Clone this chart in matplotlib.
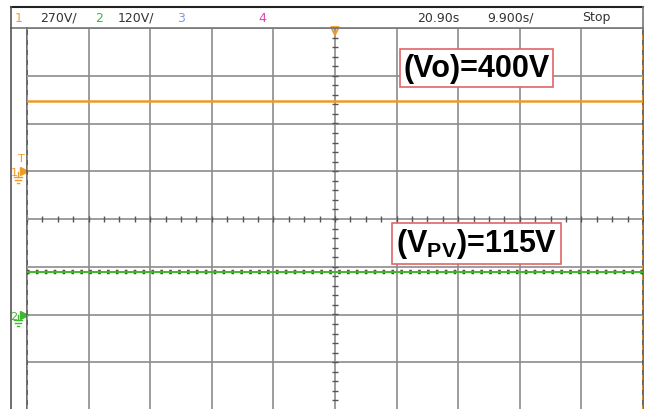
# Captura de osciloscopio: Vo y Vpv (modo Stop)
import numpy as np
import matplotlib.pyplot as plt

plt.rcParams['mathtext.fontset'] = 'custom'
plt.rcParams['mathtext.bf'] = 'Liberation Sans:bold'
plt.rcParams['mathtext.rm'] = 'Liberation Sans:bold'

# Ajustes del osciloscopio
ch1_scale = 270      # V/div
ch2_scale = 120      # V/div
t_scale = 9.9        # s/div
ch1_offset = 1.0     # div (marcador de tierra canal 1)
ch2_offset = -2.0    # div (marcador de tierra canal 2)

# Cabecera
header_left = [("1", "#f0a030"), ("270V/", "#333333"), ("2", "#33bb33"),
               ("120V/", "#333333"), ("3", "#8899dd"), ("4", "#dd44aa")]
header_left_x = [15, 40, 95, 118, 177, 258]
header_right = ["20.90s", "9.900s/", "Stop"]
header_right_x = [417, 487, 582]

t = np.array([0.0, 99.0])
vo = np.array([400, 400])
vpv = np.array([108, 108])

labels = [r"(Vo)=400V", r"$\mathrm{(V_{PV})}\text{=115V}$"]

orange = "#ee9a25"
green = "#3cb82c"
grid_c = "#8c8c8c"

W, H = 646, 410
fig = plt.figure(figsize=(W / 100, H / 100), dpi=100)


def px(x, y):
    return x / W, 1 - y / H


# marco exterior y barra de estado
fig.add_artist(plt.Line2D([px(11, 0)[0], px(643, 0)[0]], [px(0, 8)[1]] * 2, color="#222222", lw=1.5))
fig.add_artist(plt.Line2D([px(11, 0)[0], px(643, 0)[0]], [px(0, 29)[1]] * 2, color="#777777", lw=1.2))
fig.add_artist(plt.Line2D([px(11, 0)[0]] * 2, [px(0, 8)[1], 0], color="#555555", lw=1.2))
fig.add_artist(plt.Line2D([px(643, 0)[0]] * 2, [px(0, 8)[1], px(0, 29)[1]], color="#777777", lw=1.2))

for (s, c), x in zip(header_left, header_left_x):
    fig.text(*px(x, 18), s, color=c, fontsize=9, family="Liberation Sans Narrow", va="center")
for s, x in zip(header_right, header_right_x):
    fig.text(*px(x, 18), s, color="#333333", fontsize=9, family="Liberation Sans Narrow", va="center")

ax = fig.add_axes([27 / W, 1 - 411 / H, 616 / W, 382 / H])
ax.set_xlim(0, 10 * t_scale)
ax.set_ylim(-4, 4)
ax.set_xticks(np.arange(0, 10 * t_scale + 0.01, t_scale))
ax.set_yticks(np.arange(-4, 5, 1))
ax.grid(True, color=grid_c, lw=1.2)
ax.tick_params(length=0, labelleft=False, labelbottom=False)
for s in ["top", "bottom"]:
    ax.spines[s].set_visible(False)
for s in ["left", "right"]:
    ax.spines[s].set_color("#555555")
    ax.spines[s].set_linewidth(1.2)

# reticula central con subdivisiones
xs = np.arange(0, 10 * t_scale + 0.01, t_scale / 4)
ax.plot(xs, np.zeros_like(xs), ls="none", marker="|", ms=5, color="#555555", mew=1)
ys = np.arange(-4, 4.01, 0.2)
ax.plot(np.full_like(ys, 5 * t_scale), ys, ls="none", marker="_", ms=5, color="#555555", mew=1)

# bordes naranjas discontinuos
for xv in [0, 10 * t_scale]:
    ax.axvline(xv, color=orange, lw=1.2, ls=(0, (3, 3)), zorder=4)

# trazas
ax.plot(t, vo / ch1_scale + ch1_offset, color=orange, lw=1.8, zorder=5)
y2 = vpv / ch2_scale + ch2_offset
ax.plot(t, y2, color="#4d5a22", lw=3.2, ls=(0, (0.6, 1.4)), zorder=5)
ax.plot(t, y2, color=green, lw=1.4, zorder=6)

# marcador de disparo
ax.plot(5 * t_scale, 3.93, marker="v", ms=6, mfc="none", mec=orange, mew=1.3, clip_on=False, zorder=7)

# marcadores de canal
fig.text(*px(21, 159), "T", color=orange, fontsize=8, ha="center", va="center")
fig.text(*px(14, 173), "1", color=orange, fontsize=8, ha="center", va="center")
ax.plot(-0.55, ch1_offset, marker=">", ms=6, color=orange, clip_on=False)
fig.text(*px(14, 317), "2", color=green, fontsize=8, ha="center", va="center")
ax.plot(-0.55, ch2_offset, marker=">", ms=6, color=green, clip_on=False)
for yv, c in [(178, orange), (321, green)]:
    for dy, half in [(0, 4), (3, 2.7), (6, 1.4)]:
        fig.add_artist(plt.Line2D([px(18 - half, 0)[0], px(18 + half, 0)[0]],
                                  [px(0, yv + dy)[1]] * 2, color=c, lw=1))
    fig.add_artist(plt.Line2D([px(18, 0)[0]] * 2, [px(0, yv - 5)[1], px(0, yv)[1]], color=c, lw=1))

# etiquetas
box = dict(boxstyle="square,pad=0.12", fc="white", ec="#e06666", lw=1.2)
ax.text(7.3 * t_scale, 3.16, labels[0], fontsize=22, fontweight="bold", family="Liberation Sans",
        ha="center", va="center", bbox=box, zorder=8)
ax.text(7.3 * t_scale, -0.51, labels[1], fontsize=22, ha="center", va="center", bbox=box, zorder=8)

fig.savefig("out.png", dpi=100)
